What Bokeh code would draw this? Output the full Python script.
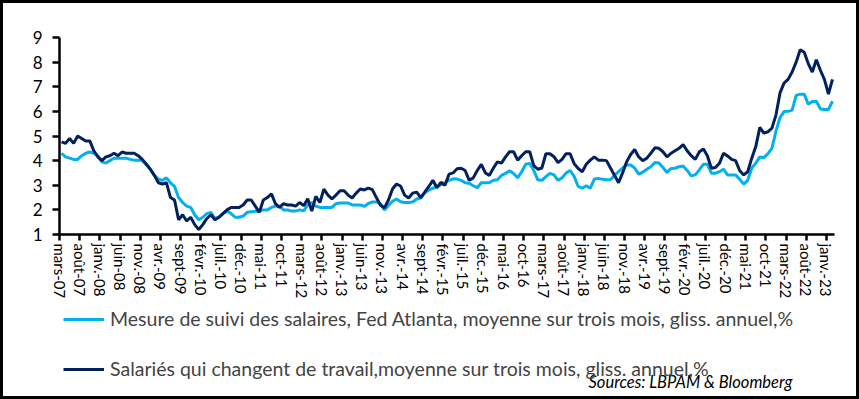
from bokeh.plotting import figure
from bokeh.layouts import column
from bokeh.models import Range1d, FixedTicker, Legend, LegendItem, Label
from bokeh.embed import file_html
from bokeh.resources import INLINE

tick_labels = ["mars-07", "août-07", "janv.-08", "juin-08", "nov.-08", "avr.-09", "sept-09",
               "févr.-10", "juil.-10", "déc.-10", "mai-11", "oct-11", "mars-12", "août-12",
               "janv.-13", "juin-13", "nov.-13", "avr.-14", "sept-14", "févr.-15", "juil.-15",
               "déc.-15", "mai-16", "oct-16", "mars-17", "août-17", "janv.-18", "juin-18",
               "nov.-18", "avr.-19", "sept-19", "févr.-20", "juil.-20", "déc.-20", "mai-21",
               "oct-21", "mars-22", "août-22", "janv.-23"]

# Mesure de suivi des salaires, Fed Atlanta (monthly, mars-07 .. févr.-23)
atlanta_tracker = [
    4.3, 4.15, 4.1, 4.05, 4.05, 4.2, 4.3, 4.35, 4.3, 4.2,
    3.95, 3.9, 4.0, 4.1, 4.1, 4.1, 4.1, 4.05, 4.02, 4.02,
    4.0, 3.85, 3.65, 3.4, 3.25, 3.2, 3.3, 3.1, 2.95, 2.5,
    2.3, 2.15, 2.1, 1.8, 1.6, 1.7, 1.85, 1.9, 1.65, 1.7,
    1.85, 1.95, 1.85, 1.7, 1.7, 1.75, 1.9, 1.92, 1.94, 1.95,
    2.0, 2.0, 2.1, 2.15, 2.15, 2.0, 2.0, 1.95, 1.95, 2.0,
    1.96, 2.2, 2.3, 2.15, 2.1, 2.1, 2.1, 2.1, 2.25, 2.28,
    2.28, 2.28, 2.2, 2.2, 2.2, 2.14, 2.26, 2.32, 2.32, 2.25,
    2.0, 2.18, 2.35, 2.44, 2.33, 2.3, 2.3, 2.32, 2.44, 2.48,
    2.7, 2.8, 2.88, 2.93, 3.02, 3.1, 3.2, 3.26, 3.25, 3.2,
    3.1, 3.08, 2.98, 2.9, 3.1, 3.1, 3.1, 3.2, 3.22, 3.4,
    3.48, 3.59, 3.48, 3.3, 3.55, 3.85, 3.89, 3.6, 3.22, 3.2,
    3.35, 3.48, 3.42, 3.2, 3.3, 3.5, 3.6, 3.36, 2.95, 2.88,
    2.98, 2.88, 3.25, 3.28, 3.24, 3.22, 3.22, 3.4, 3.55, 3.7,
    3.82, 3.82, 3.7, 3.45, 3.53, 3.65, 3.75, 3.92, 3.9, 3.72,
    3.52, 3.68, 3.69, 3.75, 3.78, 3.6, 3.38, 3.42, 3.62, 3.85,
    3.85, 3.49, 3.49, 3.55, 3.65, 3.42, 3.42, 3.42, 3.25, 3.05,
    3.2, 3.7, 3.9, 4.15, 4.12, 4.28, 4.5, 5.2, 5.75, 5.99,
    6.0, 6.05, 6.65, 6.7, 6.7, 6.29, 6.4, 6.41, 6.1, 6.08,
    6.08, 6.41]

# Salariés qui changent de travail
job_switchers = [
    4.76, 4.7, 4.9, 4.7, 5.0, 4.9, 4.8, 4.8, 4.4, 4.15,
    4.0, 4.15, 4.2, 4.3, 4.2, 4.35, 4.3, 4.3, 4.3, 4.2,
    4.05, 3.85, 3.65, 3.4, 3.1, 3.05, 3.1, 2.5, 2.4, 1.6,
    1.8, 1.55, 1.7, 1.4, 1.2, 1.4, 1.65, 1.8, 1.6, 1.7,
    1.85, 2.0, 2.1, 2.1, 2.1, 2.2, 2.4, 2.4, 2.15, 1.9,
    2.4, 2.5, 2.65, 2.25, 2.1, 2.25, 2.2, 2.2, 2.15, 2.3,
    2.17, 2.45, 1.95, 2.55, 2.3, 2.84, 2.6, 2.45, 2.6, 2.78,
    2.78, 2.6, 2.48, 2.68, 2.85, 2.81, 2.88, 2.82, 2.5, 2.2,
    2.08, 2.4, 2.85, 3.05, 2.97, 2.6, 2.48, 2.68, 2.72, 2.5,
    2.72, 2.95, 3.2, 2.9, 3.12, 3.0, 3.45, 3.5, 3.67, 3.69,
    3.6, 3.2, 3.3, 3.6, 3.85, 3.5, 3.4, 3.7, 3.95, 3.9,
    4.15, 4.36, 4.36, 4.02, 4.2, 4.36, 4.36, 3.8, 3.65, 3.7,
    4.28, 4.28, 4.16, 3.92, 4.05, 4.28, 4.28, 3.88, 3.68, 3.55,
    3.85, 4.02, 4.15, 4.02, 4.02, 4.0, 3.7, 3.4, 3.1, 3.5,
    3.95, 4.25, 4.45, 4.15, 4.0, 4.1, 4.3, 4.52, 4.5, 4.36,
    4.15, 4.3, 4.4, 4.5, 4.65, 4.4, 4.2, 4.05, 4.35, 4.48,
    4.2, 3.69, 3.72, 3.89, 4.3, 4.19, 4.05, 4.0, 3.6, 3.42,
    3.55, 4.1, 4.57, 5.35, 5.12, 5.17, 5.32, 5.85, 6.75, 7.15,
    7.3, 7.6, 8.0, 8.5, 8.4, 7.94, 7.6, 8.1, 7.67, 7.3,
    6.7, 7.3]

label_light = "Mesure de suivi des salaires, Fed Atlanta, moyenne sur trois mois, gliss. annuel,%"
label_dark = "Salariés qui changent de travail,moyenne sur trois mois, gliss. annuel,%"
source_text = "Sources: LBPAM & Bloomberg"

FONT = "Lato"
LIGHT = "#00B0F0"
DARK = "#002060"

n = len(job_switchers)
xs = [k + 0.5 for k in range(n)]

# ---- main chart ----
p = figure(width=853, height=298, output_backend="svg", toolbar_location=None,
           x_range=Range1d(0, n), y_range=Range1d(1, 9),
           min_border_left=56, min_border_right=22, min_border_top=34,
           min_border_bottom=66)
p.outline_line_color = None
p.xgrid.visible = False
p.ygrid.visible = False

p.line(xs, atlanta_tracker, line_color=LIGHT, line_width=3)
p.line(xs, job_switchers, line_color=DARK, line_width=3)

tick_pos = [5 * j for j in range(len(tick_labels))]
p.xaxis.ticker = FixedTicker(ticks=tick_pos)
p.xaxis.major_label_overrides = {t: lab for t, lab in zip(tick_pos, tick_labels)}
p.xaxis.major_label_orientation = "vertical"
p.xaxis.major_label_standoff = 3
p.xaxis.major_tick_out = 6

p.yaxis.ticker = FixedTicker(ticks=list(range(1, 10)))
p.yaxis.major_label_standoff = 10
p.yaxis.major_tick_out = 7

for ax in (p.xaxis, p.yaxis):
    ax.axis_line_width = 2.5
    ax.axis_line_color = "black"
    ax.major_tick_line_width = 2.5
    ax.major_tick_line_color = "black"
    ax.major_tick_in = 0
    ax.minor_tick_line_color = None
    ax.major_label_text_font = FONT
    ax.major_label_text_color = "black"
p.xaxis.major_label_text_font_size = "15px"
p.yaxis.major_label_text_font_size = "17px"

# ---- legend strip (its frame is aligned with the chart frame by the column) ----
q = figure(width=853, height=95, output_backend="svg", toolbar_location=None,
           x_range=Range1d(0, n), y_range=Range1d(-2, -1),
           x_axis_location=None, y_axis_location=None,
           min_border_left=0, min_border_right=0, min_border_top=0, min_border_bottom=0)
q.outline_line_color = None
q.xgrid.visible = False
q.ygrid.visible = False
# series drawn outside the strip's visible range: only their legend samples show
g_light = q.line(xs, atlanta_tracker, line_color=LIGHT, line_width=3)
g_dark = q.line(xs, job_switchers, line_color=DARK, line_width=3)

legend = Legend(items=[LegendItem(label=label_light, renderers=[g_light]),
                       LegendItem(label=label_dark, renderers=[g_dark])],
                location=(4, 16), orientation="vertical",
                border_line_color=None, background_fill_alpha=0,
                label_text_font=FONT, label_text_font_size="19.5px",
                glyph_width=41, glyph_height=20, label_height=20,
                spacing=27, padding=0, margin=0, label_standoff=6)
q.add_layout(legend)

q.add_layout(Label(x=529, y=15, x_units="screen", y_units="screen",
                   text=source_text, text_font=FONT, text_font_style="italic",
                   text_font_size="16.5px", text_baseline="middle", text_color="black"))

root = column(p, q, spacing=0, styles={"border": "3px solid black"})
open("out.html", "w").write(file_html(root, INLINE))
